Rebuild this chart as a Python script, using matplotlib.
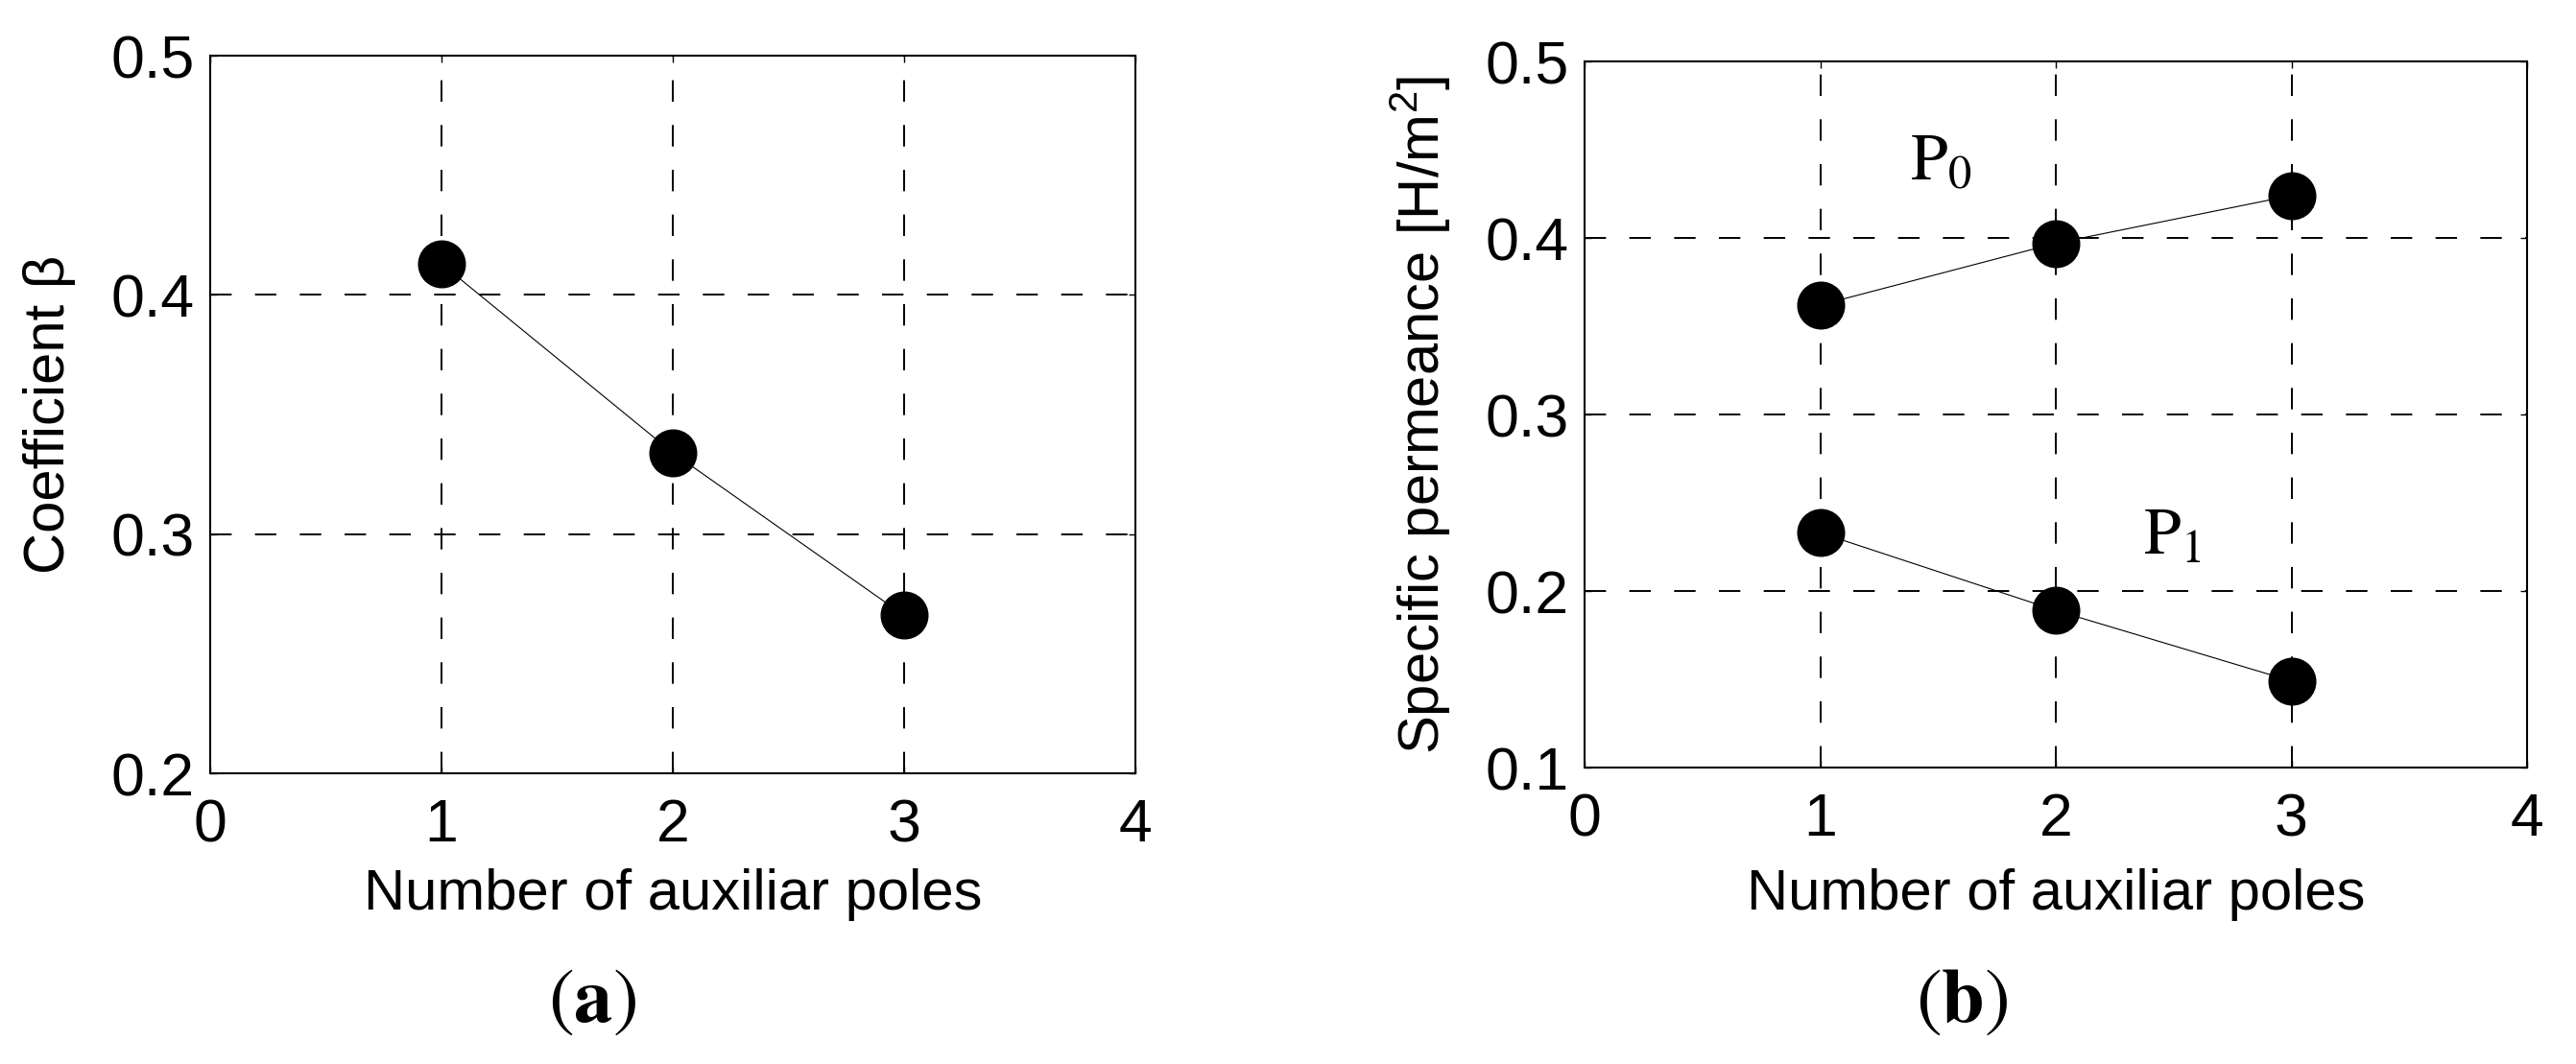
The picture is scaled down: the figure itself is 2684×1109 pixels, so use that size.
import matplotlib
matplotlib.use('Agg')
import matplotlib.pyplot as plt

# data
poles = [1, 2, 3]
beta = [0.413, 0.334, 0.266]
p0 = [0.362, 0.397, 0.424]
p1 = [0.233, 0.189, 0.149]

xticks = [0, 1, 2, 3, 4]
beta_ticks = [0.2, 0.3, 0.4, 0.5]
perm_ticks = [0.1, 0.2, 0.3, 0.4, 0.5]

plt.rcParams['font.family'] = ['Liberation Sans', 'DejaVu Sans']
plt.rcParams['mathtext.fontset'] = 'custom'
plt.rcParams['mathtext.rm'] = 'Liberation Sans'
plt.rcParams['mathtext.it'] = 'Liberation Sans:italic'
plt.rcParams['mathtext.bf'] = 'Liberation Sans:bold'

W, H = 2684, 1109
fig = plt.figure(figsize=(W / 100, H / 100), dpi=100)

ax1 = fig.add_axes([219 / W, 1 - 806 / H, 964 / W, 748 / H])
ax2 = fig.add_axes([1651 / W, 1 - 800 / H, 982 / W, 736 / H])

TICK_FS = 45
LABEL_FS = 43
MS = 35


def style(ax, yticks):
    ax.set_xlim(0, 4)
    ax.set_ylim(yticks[0], yticks[-1])
    ax.set_xticks(xticks)
    ax.set_yticks(yticks)
    ax.set_xticklabels([str(t) for t in xticks])
    ax.set_yticklabels(['%.1f' % t for t in yticks])
    ax.tick_params(direction='in', top=True, right=True, length=5, width=1,
                   labelsize=TICK_FS)
    ax.tick_params(axis='x', pad=18)
    ax.tick_params(axis='y', pad=12)
    ax.grid(True, color='black', linestyle=(0, (11.5, 12.5)), linewidth=1.4)
    ax.set_axisbelow(True)
    for s in ax.spines.values():
        s.set_linewidth(1.5)
    ax.set_xlabel('Number of auxiliar poles', fontsize=LABEL_FS)


# (a) coefficient beta
style(ax1, beta_ticks)
ax1.plot(poles, beta, '-o', color='black', linewidth=0.8, markersize=MS)
ax1.set_ylabel('Coefficient \u03b2', fontsize=LABEL_FS)
ax1.yaxis.set_label_coords(-0.145, 0.5)
ax1.xaxis.set_label_coords(0.5, -0.133)

# (b) specific permeance
style(ax2, perm_ticks)
ax2.plot(poles, p0, '-o', color='black', linewidth=0.8, markersize=MS)
ax2.plot(poles, p1, '-o', color='black', linewidth=0.8, markersize=MS)
ax2.set_ylabel('Specific permeance [H/m$^2$]', fontsize=LABEL_FS)
ax2.yaxis.set_label_coords(-0.14, 0.5)
ax2.xaxis.set_label_coords(0.5, -0.143)
ax2.text(1.38, 0.433, r'$\mathrm{P}_0$', fontsize=50, math_fontfamily='stix',
         ha='left', va='baseline')
ax2.text(2.37, 0.221, r'$\mathrm{P}_1$', fontsize=50, math_fontfamily='stix',
         ha='left', va='baseline')

# panel letters
fig.text(617 / W, 1 - 1044 / H, r'$\mathrm{(}\mathbf{a}\mathrm{)}$', fontsize=58,
         math_fontfamily='stix', ha='center', va='center')
fig.text(2044 / W, 1 - 1044 / H, r'$\mathrm{(}\mathbf{b}\mathrm{)}$', fontsize=58,
         math_fontfamily='stix', ha='center', va='center')

fig.savefig('out.png', dpi=100)
